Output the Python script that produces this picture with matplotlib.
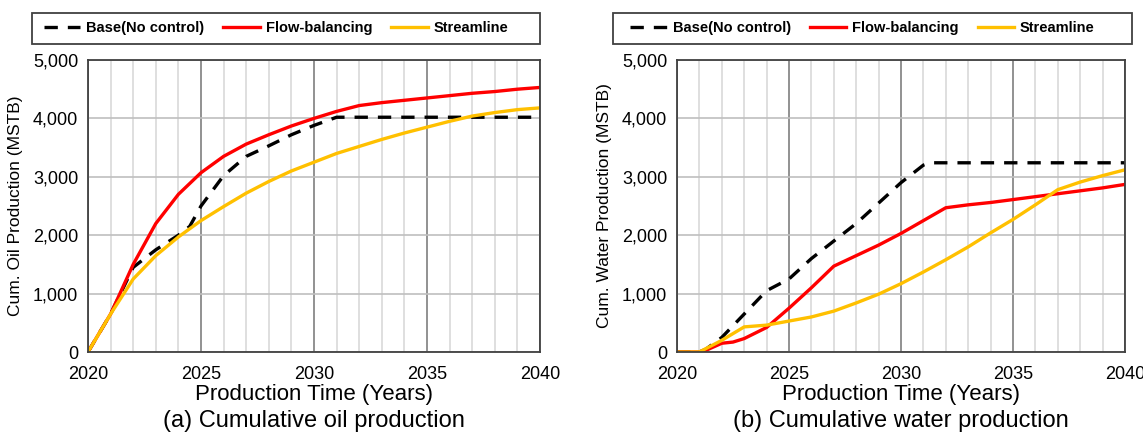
import matplotlib.pyplot as plt
from matplotlib.patches import Rectangle
from matplotlib.ticker import FuncFormatter, MultipleLocator

plt.rcParams['font.family'] = ['Liberation Sans', 'DejaVu Sans']

years = [2020, 2021, 2022, 2023, 2024, 2025, 2026, 2027, 2028, 2029, 2030,
         2031, 2032, 2033, 2034, 2035, 2036, 2037, 2038, 2039, 2040]

# oil (MSTB)
oil_base_x = [2020, 2021, 2022, 2023, 2024, 2024.5, 2025, 2026, 2027, 2028, 2029, 2030, 2031, 2040]
oil_base = [0, 650, 1450, 1750, 2000, 2150, 2500, 3020, 3350, 3530, 3720, 3880, 4020, 4020]
oil_flow = [0, 650, 1500, 2200, 2700, 3070, 3350, 3560, 3720, 3870, 4000,
            4120, 4220, 4270, 4310, 4350, 4390, 4430, 4460, 4500, 4530]
oil_stream = [0, 650, 1250, 1650, 1970, 2250, 2490, 2720, 2920, 3100, 3250,
              3400, 3520, 3640, 3750, 3850, 3950, 4040, 4100, 4150, 4180]

# water (MSTB)
wat_base_x = [2020, 2021, 2021.3, 2022, 2023, 2024, 2024.5, 2025, 2026, 2027, 2028, 2029, 2030, 2031, 2031.3, 2040]
wat_base = [0, 0, 50, 250, 650, 1050, 1150, 1250, 1600, 1900, 2200, 2550, 2900, 3200, 3240, 3240]
wat_flow_x = [2020, 2021, 2021.3, 2022, 2022.5, 2023, 2024, 2025, 2026, 2027, 2028, 2029, 2030,
              2031, 2032, 2033, 2034, 2035, 2036, 2037, 2038, 2039, 2040]
wat_flow = [0, 0, 30, 150, 170, 230, 420, 750, 1100, 1470, 1650, 1830, 2030,
            2250, 2470, 2520, 2560, 2610, 2660, 2710, 2760, 2810, 2870]
wat_stream = [0, 0, 200, 430, 460, 530, 600, 700, 840, 990, 1170,
              1370, 1580, 1800, 2040, 2270, 2520, 2780, 2910, 3020, 3120]

W, H = 1143, 440
fig = plt.figure(figsize=(W / 100, H / 100), dpi=100)
ax1 = fig.add_axes([88 / W, 1 - 352 / H, 452 / W, 292 / H])
ax2 = fig.add_axes([677 / W, 1 - 352 / H, 448 / W, 292 / H])


def style(ax, ylabel, caption):
    ax.set_xlim(2020, 2040)
    ax.set_ylim(0, 5000)
    ax.xaxis.set_major_locator(MultipleLocator(5))
    ax.xaxis.set_minor_locator(MultipleLocator(1))
    ax.yaxis.set_major_locator(MultipleLocator(1000))
    ax.yaxis.set_major_formatter(FuncFormatter(lambda v, p: f'{int(v):,}'))
    ax.grid(which='minor', axis='x', color='#d9d9d9', lw=1.2)
    ax.grid(which='major', axis='x', color='#7f7f7f', lw=1.2)
    ax.grid(which='major', axis='y', color='#bfbfbf', lw=1.2)
    ax.set_axisbelow(True)
    ax.tick_params(which='both', length=0, labelsize=13, colors='black')
    ax.tick_params(axis='x', pad=10)
    ax.tick_params(axis='y', pad=7)
    for s in ax.spines.values():
        s.set_color('#404040')
        s.set_linewidth(1.3)
    ax.set_ylabel(ylabel, fontsize=12.5, labelpad=7)
    ax.set_xlabel('Production Time (Years)', fontsize=16, labelpad=1)
    ax.text(0.5, -0.235, caption, transform=ax.transAxes, ha='center', va='center', fontsize=17)


ax1.plot(oil_base_x, oil_base, color='black', ls=(0, (4, 3)), lw=2.4, label='Base(No control)')
ax1.plot(years, oil_flow, color='#ff0000', lw=2.4, label='Flow-balancing')
ax1.plot(years, oil_stream, color='#ffc000', lw=2.4, label='Streamline')
style(ax1, 'Cum. Oil Production (MSTB)', '(a) Cumulative oil production')

ax2.plot(wat_base_x, wat_base, color='black', ls=(0, (4, 3)), lw=2.4, label='Base(No control)')
ax2.plot(wat_flow_x, wat_flow, color='#ff0000', lw=2.4, label='Flow-balancing')
ax2.plot(years, wat_stream, color='#ffc000', lw=2.4, label='Streamline')
style(ax2, 'Cum. Water Production (MSTB)', '(b) Cumulative water production')

for ax, x0, x1 in [(ax1, 32, 540), (ax2, 613, 1132)]:
    fig.patches.append(Rectangle((x0 / W, 1 - 44 / H), (x1 - x0) / W, 31 / H,
                                 transform=fig.transFigure, fill=False,
                                 edgecolor='#404040', lw=1.3))
    ax.legend(loc='center', ncol=3, frameon=False,
              bbox_to_anchor=((x0 + x1) / 2 / W - 10 / W, 1 - 28 / H),
              bbox_transform=fig.transFigure,
              prop={'weight': 'bold', 'size': 10.5}, handlelength=2.5,
              handletextpad=0.4, columnspacing=1.3, borderaxespad=0)

fig.savefig('out.png', dpi=100)
